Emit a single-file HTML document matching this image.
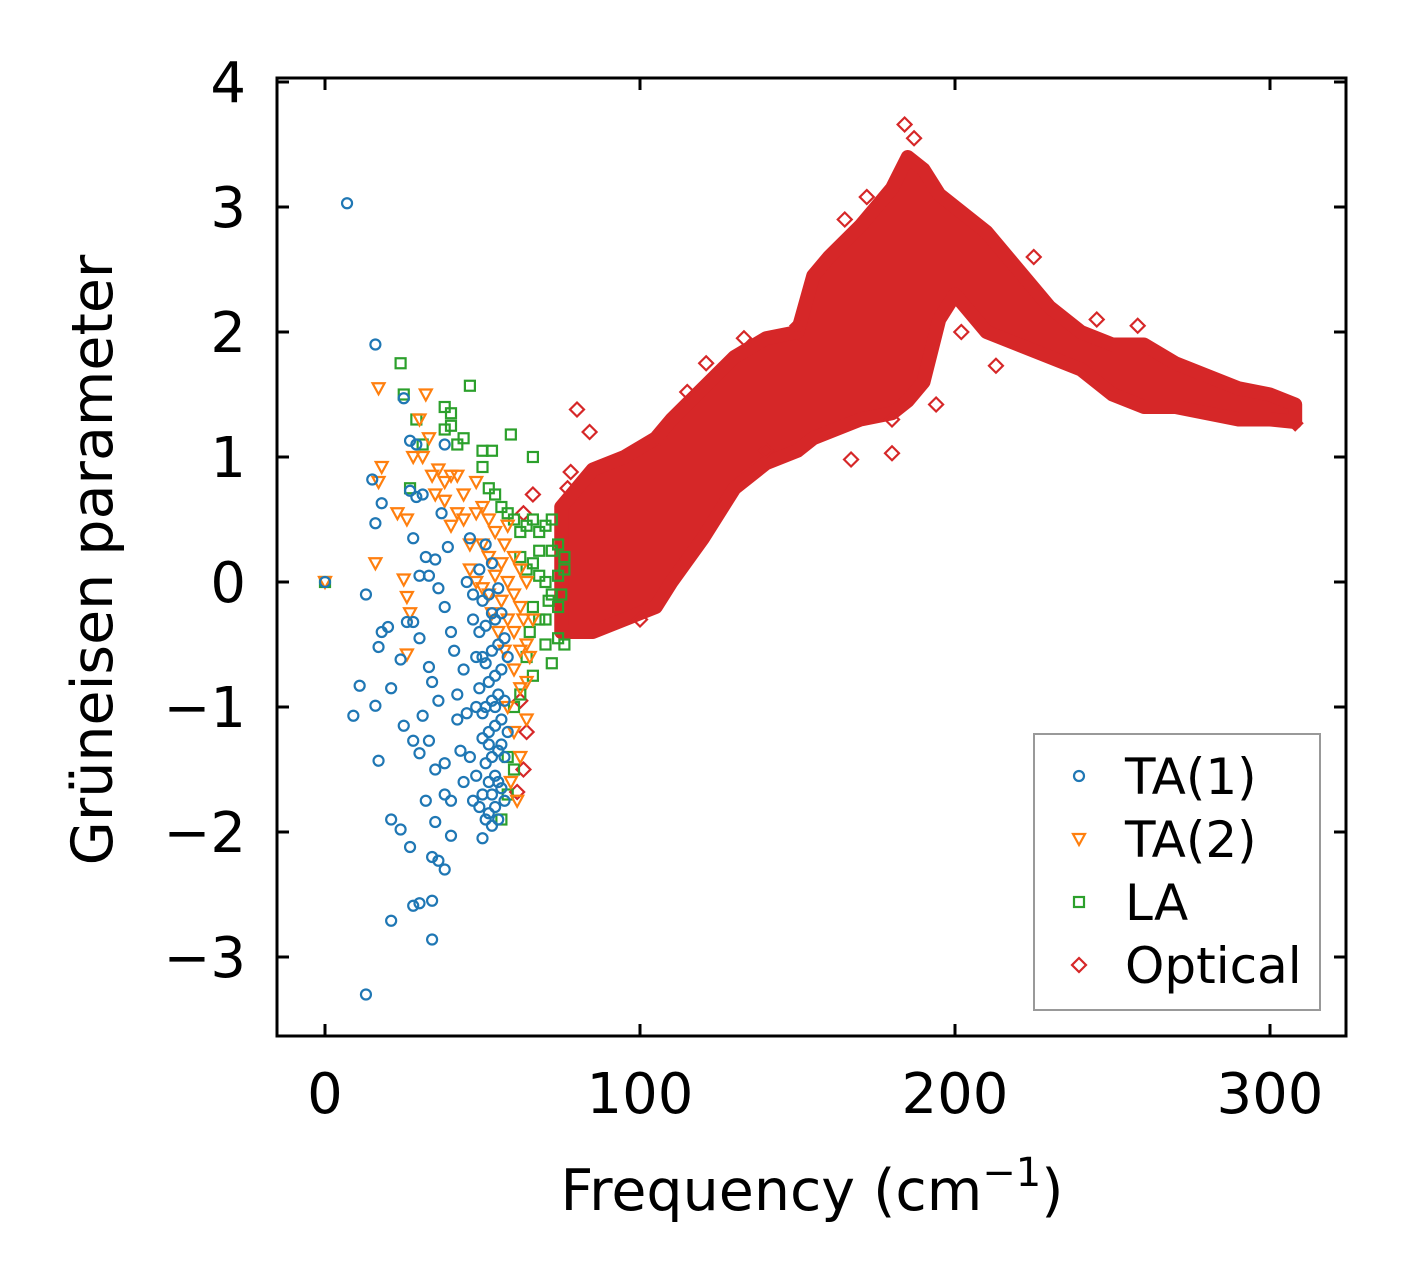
<!DOCTYPE html>
<html><head><meta charset="utf-8"><style>
html,body{margin:0;padding:0;background:#fff;}
svg{display:block;font-family:"DejaVu Sans","Liberation Sans",sans-serif;}
</style></head><body>
<svg id="chart" width="1406" height="1284" viewBox="0 0 1406 1284" xmlns="http://www.w3.org/2000/svg">
<rect x="0" y="0" width="1406" height="1284" fill="#fff"/>
<g id="plot"></g>
<g id="axes"></g>
<text x="812" y="1210" font-size="57" text-anchor="middle">Frequency (cm<tspan font-size="40" dy="-24">−1</tspan><tspan dy="24">)</tspan></text>
<text transform="translate(112,560) rotate(-90)" font-size="57" text-anchor="middle">Grüneisen parameter</text>
<g id="legend"></g>
</svg>
<script>
const xTicks=[0,100,200,300];
const yTicks=[-3,-2,-1,0,1,2,3,4];
const yTickLabels=["−3","−2","−1","0","1","2","3","4"];
const ta1=[[0,0],[7,3.03],[16,1.9],[15,0.82],[16,0.47],[18,0.63],[13,-0.1],[18,-0.4],[20,-0.36],[17,-0.52],[11,-0.83],[9,-1.07],[21,-0.85],[16,-0.99],[17,-1.43],[21,-1.9],[24,-1.98],[27,-2.12],[21,-2.71],[13,-3.3],[28,-2.59],[30,-2.57],[34,-2.55],[34,-2.86],[34,-2.2],[36,-2.23],[38,-2.3],[32,-1.75],[35,-1.92],[38,-1.7],[40,-2.03],[25,1.47],[27,1.13],[29,1.1],[27,0.73],[29,0.68],[31,0.7],[28,0.35],[32,0.2],[35,0.18],[30,0.05],[33,0.05],[24,-0.62],[26,-0.32],[28,-0.32],[30,-0.45],[25,-1.15],[28,-1.27],[30,-1.37],[33,-1.27],[31,-1.07],[34,-0.8],[33,-0.68],[36,-0.95],[35,-1.5],[38,-1.45],[40,-1.75],[38,1.1],[37,0.55],[39,0.28],[36,-0.05],[38,-0.2],[40,-0.4],[41,-0.55],[42,-0.9],[42,-1.1],[43,-1.35],[44,-1.6],[45,-1.05],[44,-0.7],[46,0.35],[45,0.0],[47,-0.3],[48,-0.6],[46,-1.4],[47,-1.75],
[50,-2.05],[51,-1.9],[52,-1.85],[53,-1.95],[54,-1.8],[55,-1.9],[50,-1.7],[52,-1.6],[54,-1.55],[56,-1.65],[51,-1.45],[53,-1.4],[55,-1.35],[57,-1.4],[50,-1.25],[52,-1.2],[54,-1.15],[56,-1.1],[51,-1.0],[53,-0.95],[55,-0.9],[57,-0.95],[49,-0.85],[52,-0.8],[54,-0.75],[56,-0.7],[50,-0.6],[53,-0.55],[55,-0.5],[57,-0.45],[49,-0.4],[51,-0.35],[54,-0.3],[56,-0.25],[50,-0.15],[52,-0.1],[55,-0.05],[49,0.1],[53,0.15],[51,0.3],[48,-1.0],[48,-1.55],[49,-1.8],[57,-1.75],[58,-1.2],[58,-0.6],[47,-0.1],[52,-1.3],[53,-1.7],[55,-1.6],[51,-0.65],[56,-1.3],[50,-1.05],[54,-1.0],[53,-0.25]];
const ta2=[[0,0],[17,1.55],[18,0.92],[17,0.8],[16,0.15],[23,0.55],[26,0.5],[25,0.02],[26,-0.12],[27,-0.25],[26,-0.58],[32,1.5],[30,1.3],[33,1.15],[28,1.0],[31,1.0],[34,0.85],[36,0.9],[38,0.8],[40,0.85],[42,0.85],[35,0.7],[38,0.65],[42,0.55],[44,0.5],[40,0.45],[46,0.3],[48,0.55],[50,0.3],[52,0.2],[54,0.4],[56,0.15],[48,0.0],[50,-0.05],[52,-0.1],[54,0.05],[56,-0.15],[58,0.0],[60,-0.1],[62,-0.2],[58,-0.3],[60,-0.4],[62,-0.55],[64,-0.5],[60,-0.7],[62,-0.85],[64,-0.8],[58,-1.0],[60,-1.2],[62,-1.4],[59,-1.6],[61,-1.75],[64,-1.1],[63,-0.3],[57,0.3],[60,0.2],[53,-0.25],[55,-0.4],[57,-0.55],[46,0.1],[44,0.7],[48,0.8],[50,0.6],[52,0.5],[58,0.45],[62,0.1],[64,0.0],[66,-0.3],[65,-0.6]];
const la=[[0,0],[24,1.75],[25,1.5],[29,1.3],[31,1.1],[38,1.4],[38,1.22],[40,1.25],[40,1.35],[42,1.1],[46,1.57],[44,1.15],[50,1.05],[53,1.05],[59,1.18],[66,1.0],[50,0.92],[52,0.75],[54,0.7],[56,0.6],[58,0.55],[27,0.75],[60,0.5],[62,0.4],[64,0.45],[66,0.5],[68,0.4],[70,0.45],[72,0.5],[74,0.3],[76,0.2],[62,0.2],[64,0.1],[66,0.15],[68,0.05],[70,0.0],[72,-0.1],[74,-0.2],[76,0.1],[66,-0.2],[68,-0.3],[70,-0.5],[72,-0.65],[74,-0.45],[76,-0.5],[64,-0.6],[66,-0.75],[62,-0.9],[60,-1.0],[58,-1.4],[56,-1.9],[58,-1.7],[60,-1.5],[70,-0.3],[72,0.25],[74,0.05],[68,0.25],[65,-0.4],[75,-0.1],[71,-0.15]];
const optFreq=[75,85,95,105,110,120,130,140,150,155,160,170,180,185,190,195,200,210,220,230,240,250,260,270,280,290,300,308];
const optLower=[-0.4,-0.4,-0.3,-0.2,0.0,0.35,0.75,0.95,1.05,1.15,1.2,1.3,1.35,1.45,1.6,2.1,2.3,2.0,1.9,1.8,1.7,1.5,1.4,1.4,1.35,1.3,1.3,1.28];
const optUpper=[0.6,0.9,1.0,1.15,1.3,1.55,1.8,1.95,2.0,2.45,2.6,2.85,3.15,3.4,3.3,3.1,3.0,2.8,2.5,2.2,2.0,1.9,1.9,1.75,1.65,1.55,1.5,1.42];
const optOut=[[80,1.38],[84,1.2],[78,0.88],[77,0.75],[66,0.7],[63,0.55],[62,-0.95],[64,-1.2],[63,-1.5],[61,-1.68],[106,1.15],[115,1.52],[121,1.75],[133,1.95],[172,3.08],[184,3.66],[167,0.98],[180,1.03],[194,1.42],[213,1.73],[246,1.9],[258,2.05],[225,2.6],[165,2.9],[187,3.55],[150,2.05],[100,-0.3],[95,-0.15],[85,-0.35],[308,1.27],[180,1.3],[202,2.0],[245,2.1],[140,1.05]];

const NS="http://www.w3.org/2000/svg";
const X=v=>325+v*3.15, Y=v=>582-v*125;
const L=277,R=1346,T=78,B=1036;
function mk(tag,attrs,parent){const e=document.createElementNS(NS,tag);for(const k in attrs)e.setAttribute(k,attrs[k]);parent.appendChild(e);return e;}
const plot=document.getElementById('plot'),axes=document.getElementById('axes'),leg=document.getElementById('legend');
const C={b:"#1f77b4",o:"#ff7f0e",g:"#2ca02c",r:"#d62728"};
function marker(type,cx,cy,color,parent){
  let e;
  if(type==='c')e=mk('circle',{cx:cx,cy:cy,r:5},parent);
  else if(type==='t')e=mk('polygon',{points:`${cx-6},${cy-5} ${cx+6},${cy-5} ${cx},${cy+6}`},parent);
  else if(type==='s')e=mk('rect',{x:cx-5,y:cy-5,width:10,height:10},parent);
  else e=mk('polygon',{points:`${cx},${cy-7} ${cx+7},${cy} ${cx},${cy+7} ${cx-7},${cy}`},parent);
  e.setAttribute('fill','none');e.setAttribute('stroke',color);e.setAttribute('stroke-width','2.2');
  return e;
}
let pts=optFreq.map((f,i)=>`${X(f)},${Y(optUpper[i])}`);
for(let i=optFreq.length-1;i>=0;i--)pts.push(`${X(optFreq[i])},${Y(optLower[i])}`);
const band=mk('polygon',{points:pts.join(' '),fill:C.r,stroke:C.r,'stroke-width':14,'stroke-linejoin':'round'},plot);


optOut.forEach(p=>{const m=marker('d',X(p[0]),Y(p[1]),C.r,plot);

});
la.forEach(p=>{const m=marker('s',X(p[0]),Y(p[1]),C.g,plot);

});
ta2.forEach(p=>{const m=marker('t',X(p[0]),Y(p[1]),C.o,plot);

});
ta1.forEach(p=>{const m=marker('c',X(p[0]),Y(p[1]),C.b,plot);

});
const fr=mk('rect',{x:L,y:T,width:R-L,height:B-T,fill:'none',stroke:'#000','stroke-width':3},axes);


xTicks.forEach(t=>{const x=X(t);
mk('line',{x1:x,x2:x,y1:B,y2:B-12,stroke:'#000','stroke-width':3},axes);
mk('line',{x1:x,x2:x,y1:T,y2:T+12,stroke:'#000','stroke-width':3},axes);
const tx=mk('text',{x:x,y:1113,'font-size':56,'text-anchor':'middle'},axes);tx.textContent=t;

});
yTicks.forEach((t,i)=>{const y=Y(t);
mk('line',{x1:L,x2:L+12,y1:y,y2:y,stroke:'#000','stroke-width':3},axes);
mk('line',{x1:R,x2:R-12,y1:y,y2:y,stroke:'#000','stroke-width':3},axes);
const tx=mk('text',{x:246,y:y+20,'font-size':56,'text-anchor':'end'},axes);tx.textContent=yTickLabels[i];

});
const lb=mk('rect',{x:1034,y:734,width:286,height:276,fill:'#fff',stroke:'#999','stroke-width':2},leg);


const entries=[['c',C.b,'TA(1)'],['t',C.o,'TA(2)'],['s',C.g,'LA'],['d',C.r,'Optical']];
entries.forEach((e,i)=>{const y=776+i*63;
const m=marker(e[0],1079,y,e[1],leg);


const t=mk('text',{x:1125,y:y+18,'font-size':50},leg);t.textContent=e[2];

});
</script>
</body></html>
